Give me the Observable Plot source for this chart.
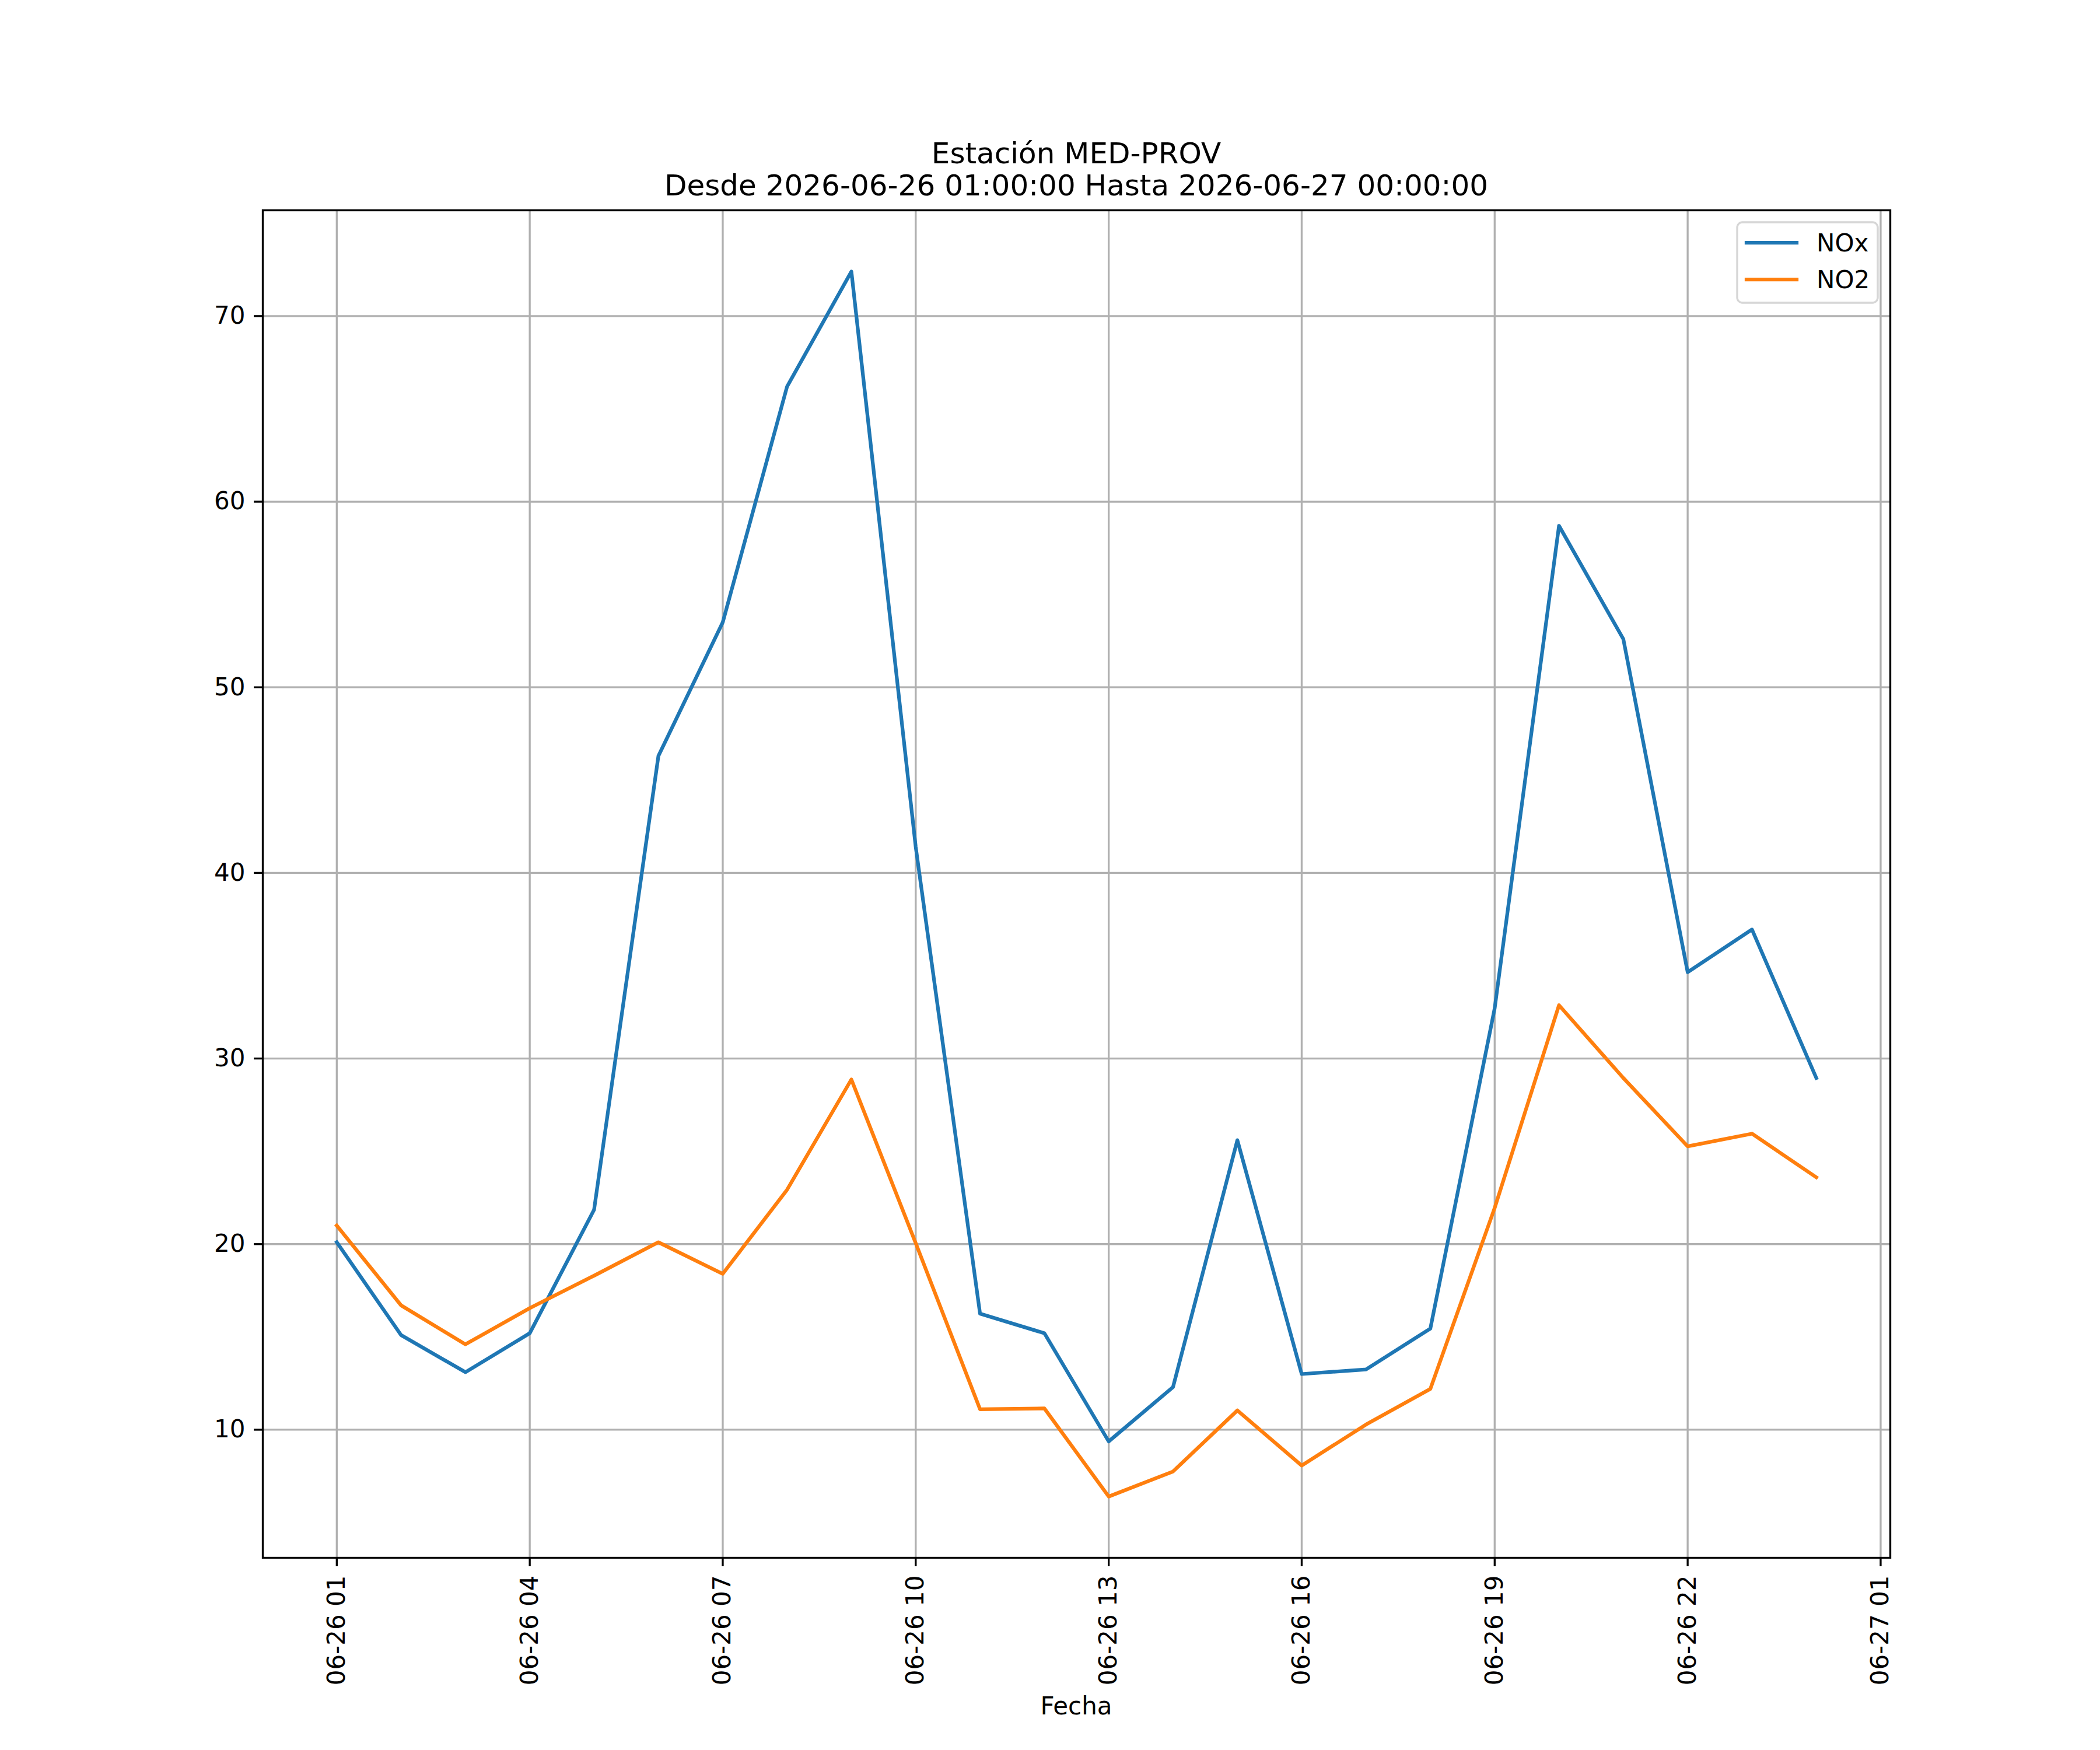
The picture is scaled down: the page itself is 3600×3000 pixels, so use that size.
<!DOCTYPE html>
<html>
<head>
<meta charset="utf-8">
<script src="https://cdn.jsdelivr.net/npm/d3@7"></script>
<script src="https://cdn.jsdelivr.net/npm/@observablehq/plot@0.6"></script>
<style>
  html, body { margin: 0; padding: 0; background: white; overflow: hidden; }
  #chart svg { display: block; }
</style>
</head>
<body>
<div id="chart"></div>
<script>
// ---- data ----
const times = [
  "2026-06-26T01:00Z","2026-06-26T02:00Z","2026-06-26T03:00Z","2026-06-26T04:00Z",
  "2026-06-26T05:00Z","2026-06-26T06:00Z","2026-06-26T07:00Z","2026-06-26T08:00Z",
  "2026-06-26T09:00Z","2026-06-26T10:00Z","2026-06-26T11:00Z","2026-06-26T12:00Z",
  "2026-06-26T13:00Z","2026-06-26T14:00Z","2026-06-26T15:00Z","2026-06-26T16:00Z",
  "2026-06-26T17:00Z","2026-06-26T18:00Z","2026-06-26T19:00Z","2026-06-26T20:00Z",
  "2026-06-26T21:00Z","2026-06-26T22:00Z","2026-06-26T23:00Z","2026-06-27T00:00Z"
];
const nox = [20.1, 15.1, 13.1, 15.2, 21.85, 46.3, 53.5, 66.2, 72.4, 41.4, 16.25, 15.2,
             9.37, 12.3, 25.6, 13.0, 13.25, 15.45, 32.7, 58.7, 52.6, 34.65, 36.95, 28.95];
const no2 = [21.0, 16.7, 14.6, 16.55, 18.3, 20.1, 18.4, 22.93, 28.87, 20.05, 11.1, 11.15,
             6.4, 7.75, 11.04, 8.07, 10.28, 12.2, 21.95, 32.87, 28.95, 25.27, 25.95, 23.6];
const seriesNames = ["NOx", "NO2"];
const xTickDates = [
  "2026-06-26T01:00Z","2026-06-26T04:00Z","2026-06-26T07:00Z","2026-06-26T10:00Z",
  "2026-06-26T13:00Z","2026-06-26T16:00Z","2026-06-26T19:00Z","2026-06-26T22:00Z",
  "2026-06-27T01:00Z"
];
const yTicks = [10, 20, 30, 40, 50, 60, 70];
const titleLines = ["Estación MED-PROV", "Desde 2026-06-26 01:00:00 Hasta 2026-06-27 00:00:00"];
const xLabel = "Fecha";

// ---- build ----
const dates = times.map(s => new Date(s));
const xTicks = xTickDates.map(s => new Date(s));
const noxData = dates.map((t, i) => ({t, v: nox[i]}));
const no2Data = dates.map((t, i) => ({t, v: no2[i]}));

const t0 = +dates[0], t1 = +dates[dates.length - 1];
const xPad = (t1 - t0) * 0.05;
const allV = nox.concat(no2);
const vMin = d3.min(allV), vMax = d3.max(allV);
const yPad = (vMax - vMin) * 0.05;

const W = 3600, H = 3000;
const mL = 450, mR = 360, mT = 360, mB = 330;
const lw = 3.33;
const blue = "#1f77b4", orange = "#ff7f0e";

const svg = Plot.plot({
  width: W, height: H,
  marginLeft: mL, marginRight: mR, marginTop: mT, marginBottom: mB,
  style: {fontFamily: "DejaVu Sans", fontSize: "42px", background: "white", color: "black"},
  x: {type: "utc", domain: [new Date(t0 - xPad), new Date(t1 + xPad)], axis: null},
  y: {domain: [vMin - yPad, vMax + yPad], axis: null},
  marks: [
    Plot.gridX(xTicks, {stroke: "#b0b0b0", strokeOpacity: 1, strokeWidth: lw}),
    Plot.gridY(yTicks, {stroke: "#b0b0b0", strokeOpacity: 1, strokeWidth: lw}),
    Plot.lineY(noxData, {x: "t", y: "v", stroke: blue, strokeWidth: 6.25, strokeLinejoin: "round", strokeLinecap: "square"}),
    Plot.lineY(no2Data, {x: "t", y: "v", stroke: orange, strokeWidth: 6.25, strokeLinejoin: "round", strokeLinecap: "square"}),
    Plot.frame({stroke: "black", strokeWidth: lw}),
    Plot.axisX({anchor: "bottom", ticks: xTicks, tickFormat: d3.utcFormat("%m-%d %H"),
      tickRotate: -90, tickSize: 15, tickPadding: 15, strokeWidth: lw, fontSize: 42, label: null}),
    Plot.axisY({anchor: "left", ticks: yTicks, tickSize: 15, tickPadding: 15,
      strokeWidth: lw, fontSize: 42, label: null})
  ]
});

const root = d3.select(svg);
const cx = mL + (W - mL - mR) / 2;
// title
root.append("text").attr("x", cx).attr("y", 280).attr("text-anchor", "middle")
  .attr("font-size", 50).attr("fill", "black").text(titleLines[0]);
root.append("text").attr("x", cx).attr("y", 335).attr("text-anchor", "middle")
  .attr("font-size", 50).attr("fill", "black").text(titleLines[1]);
// x label
root.append("text").attr("x", cx).attr("y", 2939).attr("text-anchor", "middle")
  .attr("font-size", 42).attr("fill", "black").text(xLabel);
// legend
const lg = root.append("g");
lg.append("rect").attr("x", 2978).attr("y", 381).attr("width", 241).attr("height", 138)
  .attr("rx", 9).attr("fill", "white").attr("fill-opacity", 0.8)
  .attr("stroke", "#cccccc").attr("stroke-opacity", 0.8).attr("stroke-width", lw);
const legColors = [blue, orange];
const legY = [416, 479];
seriesNames.forEach((name, i) => {
  lg.append("line").attr("x1", 2994).attr("x2", 3080).attr("y1", legY[i]).attr("y2", legY[i])
    .attr("stroke", legColors[i]).attr("stroke-width", 6.25).attr("stroke-linecap", "square");
  lg.append("text").attr("x", 3114).attr("y", legY[i] + 15).attr("font-size", 42)
    .attr("text-anchor", "start").attr("fill", "black").text(name);
});

document.getElementById("chart").appendChild(svg);
</script>
</body>
</html>
